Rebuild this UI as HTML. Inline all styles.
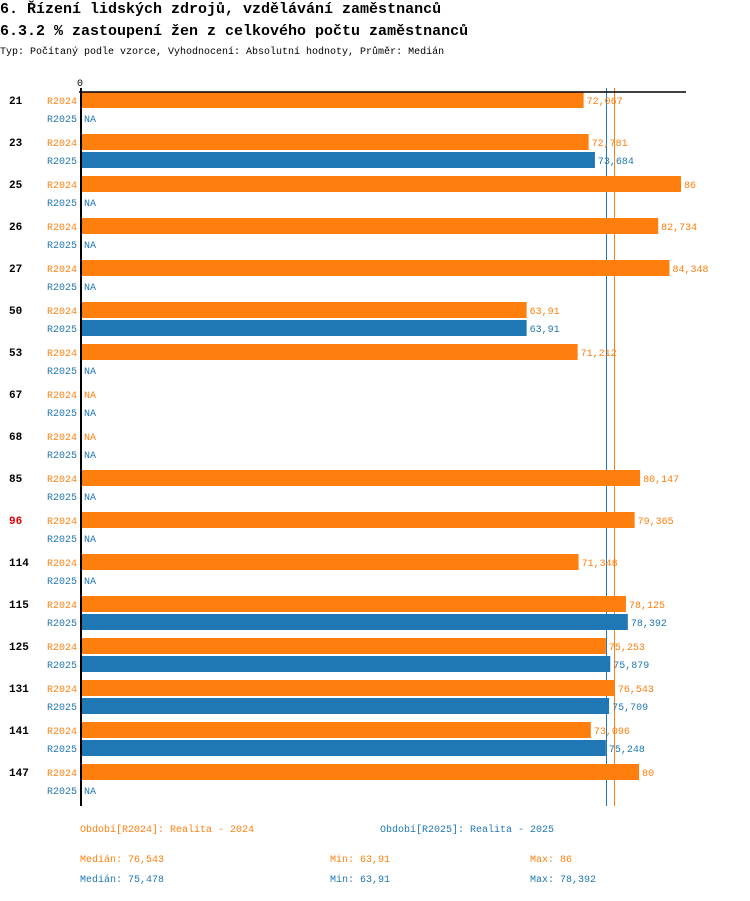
<!DOCTYPE html>
<html><head><meta charset="utf-8"><style>
body{margin:0;background:#fff;width:750px;height:896px;overflow:hidden}
svg text{font-family:"Liberation Mono",monospace}
</style></head><body>
<svg id="c" width="750" height="896">
<text x="0" y="13" font-size="15" font-weight="bold">6. Řízení lidských zdrojů, vzdělávání zaměstnanců</text>
<text x="0" y="35" font-size="15" font-weight="bold">6.3.2 % zastoupení žen z celkového počtu zaměstnanců</text>
<text x="0" y="54" font-size="10">Typ: Počítaný podle vzorce, Vyhodnocení: Absolutní hodnoty, Průměr: Medián</text>
<g id="plot"></g>
<g>
<text x="80" y="832" font-size="10" fill="#ff7f0e">Období[R2024]: Realita - 2024</text>
<text x="380" y="832" font-size="10" fill="#1f77b4">Období[R2025]: Realita - 2025</text>
<text x="80" y="862" font-size="10" fill="#ff7f0e">Medián: 76,543</text>
<text x="330" y="862" font-size="10" fill="#ff7f0e">Min: 63,91</text>
<text x="530" y="862" font-size="10" fill="#ff7f0e">Max: 86</text>
<text x="80" y="882" font-size="10" fill="#1f77b4">Medián: 75,478</text>
<text x="330" y="882" font-size="10" fill="#1f77b4">Min: 63,91</text>
<text x="530" y="882" font-size="10" fill="#1f77b4">Max: 78,392</text>
</g>
</svg>
<script>
const categories=["21","23","25","26","27","50","53","67","68","85","96","114","115","125","131","141","147"];
const r2024=[72.067,72.781,86,82.734,84.348,63.91,71.212,null,null,80.147,79.365,71.348,78.125,75.253,76.543,73.096,80];
const r2025=[null,73.684,null,null,null,63.91,null,null,null,null,null,null,78.392,75.879,75.709,75.248,null];
const medians=[76.543,75.478];
const highlight="96";
const NS="http://www.w3.org/2000/svg";
const g=document.getElementById('plot');
const x0=80, scale=601/86;
const xS=v=>x0+v*scale;
const yG=i=>100+i*42;
const col=["#ff7f0e","#1f77b4"];
function el(t,a,txt){const e=document.createElementNS(NS,t);for(const k in a)e.setAttribute(k,a[k]);if(txt!==undefined)e.textContent=txt;g.appendChild(e);return e;}
function fmt(v){return String(+v.toFixed(3)).replace('.',',');}
[1,0].forEach(k=>{
  const mx=Math.round(xS(medians[k]))-0.5;
  const m=el('line',{x1:mx,y1:88,x2:mx,y2:806,stroke:col[k],'stroke-width':1});
  
  
});
categories.forEach((c,i)=>{
  const y=yG(i);
  const lab=el('text',{x:9,y:y+4,'font-size':11,'font-weight':'bold',fill:c===highlight?'#e00000':'#000'},c);
  
  
  [r2024,r2025].forEach((s,k)=>{
    const cy=y+k*18, v=s[i];
    const sl=el('text',{x:47,y:cy+4,'font-size':10,fill:col[k]},k?'R2025':'R2024');
    
    
    if(v===null){
      const na=el('text',{x:84,y:cy+4,'font-size':10,fill:col[k]},'NA');
      
      
    }else{
      const b=el('rect',{x:x0,y:cy-8,width:xS(v)-x0,height:16,fill:col[k]});
      
      
      const vl=el('text',{x:xS(v)+3,y:cy+4,'font-size':10,fill:col[k]},fmt(v));
      
      
    }
  });
});
const ax=el('line',{x1:79,y1:92,x2:686,y2:92,stroke:'#000','stroke-width':1.5});


const ay=el('line',{x1:81,y1:88,x2:81,y2:806,stroke:'#000','stroke-width':2});


const t0=el('text',{x:77,y:86,'font-size':10},'0');


</script>
</body></html>
